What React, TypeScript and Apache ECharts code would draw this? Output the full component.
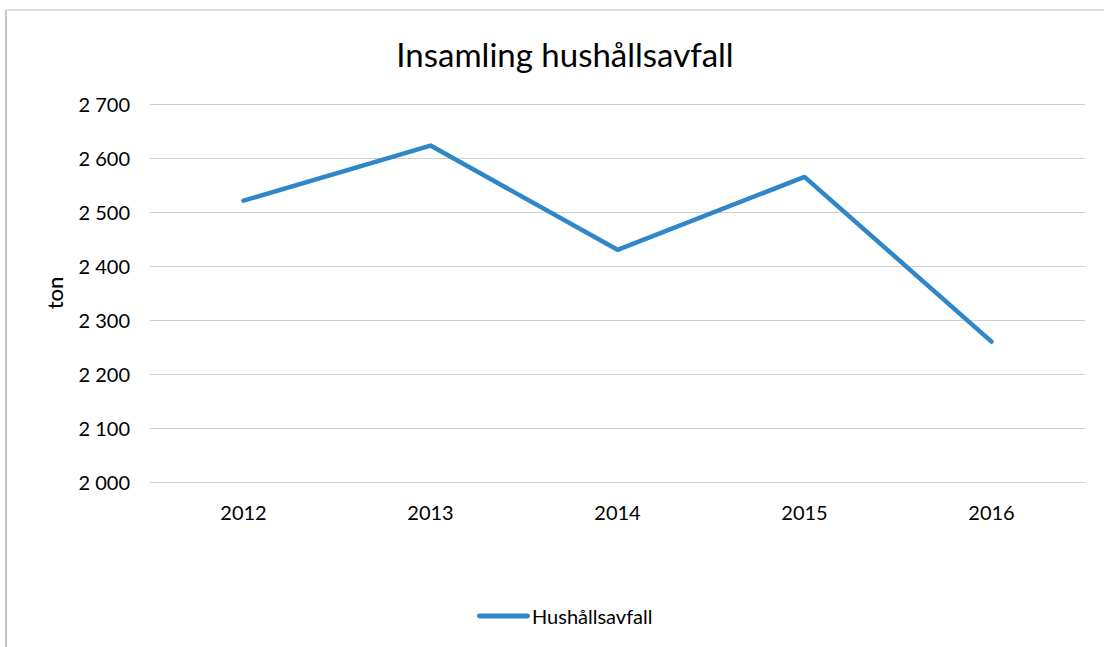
import React, { useEffect, useRef } from "react";
import * as echarts from "echarts";

const titleText = "Insamling hushållsavfall";
const categories = ["2012", "2013", "2014", "2015", "2016"];
const seriesName = "Hushållsavfall";
const values = [2521, 2623, 2430, 2565, 2260];
const yMin = 2000;
const yMax = 2700;
const yStep = 100;
const yAxisName = "ton";

const FONT = "Lato, 'Open Sans', sans-serif";

function fmt(v: number): string {
  const s = String(Math.round(v));
  return s.replace(/\B(?=(\d{3})+(?!\d))/g, " ");
}

export default function App() {
  const ref = useRef<HTMLDivElement>(null);
  useEffect(() => {
    if (!ref.current) return;
    const chart = echarts.init(ref.current, undefined, { renderer: "svg" });
    chart.setOption({
      animation: false,
      backgroundColor: "#ffffff",
      textStyle: { fontFamily: FONT },
      title: {
        text: titleText,
        left: 560,
        textAlign: "center",
        top: 32,
        textStyle: { fontFamily: FONT, fontSize: 33, fontWeight: "normal", color: "#000" },
      },
      graphic: [
        {
          type: "line",
          shape: { x1: 6, y1: 10, x2: 6, y2: 647 },
          style: { stroke: "#c4c4c4", lineWidth: 2 },
        },
        {
          type: "line",
          shape: { x1: 6, y1: 10, x2: 1104, y2: 10 },
          style: { stroke: "#d2d2d2", lineWidth: 1.5 },
        },
      ],
      legend: {
        bottom: 16,
        left: 472,
        itemWidth: 53,
        itemHeight: 6,
        itemGap: 4,
        textStyle: { fontFamily: FONT, fontSize: 20, color: "#000", padding: [0, 0, 0, -3] },
        data: [{ name: seriesName, icon: "path://M2,0 L51,0 A2,2 0 0 1 51,5 L2,5 A2,2 0 0 1 2,0 Z" }],
      },
      grid: { left: 150, right: 19, top: 104, bottom: 165, containLabel: false },
      xAxis: {
        type: "category",
        data: categories,
        boundaryGap: true,
        axisLine: { show: false },
        axisTick: { show: false },
        axisLabel: { fontFamily: FONT, fontSize: 20, color: "#000", margin: 20 },
      },
      yAxis: {
        type: "value",
        min: yMin,
        max: yMax,
        interval: yStep,
        name: yAxisName,
        nameLocation: "middle",
        nameGap: 85,
        nameTextStyle: { fontFamily: FONT, fontSize: 22, fontWeight: 500, color: "#000" },
        axisLine: { show: false },
        axisTick: { show: false },
        axisLabel: {
          fontFamily: FONT,
          fontSize: 20,
          color: "#000",
          margin: 20,
          formatter: (v: number) => fmt(v),
        },
        splitLine: { lineStyle: { color: "#cfcfcf", width: 1 } },
      },
      series: [
        {
          name: seriesName,
          type: "line",
          data: values,
          symbol: "none",
          lineStyle: { color: "#2f86c9", width: 4.5, cap: "round", join: "round" },
          itemStyle: { color: "#2f86c9" },
        },
      ],
    });
    return () => chart.dispose();
  }, []);
  return (
    <div
      ref={ref}
      style={{ position: "absolute", left: 0, top: 0, width: 1104, height: 647 }}
    />
  );
}
